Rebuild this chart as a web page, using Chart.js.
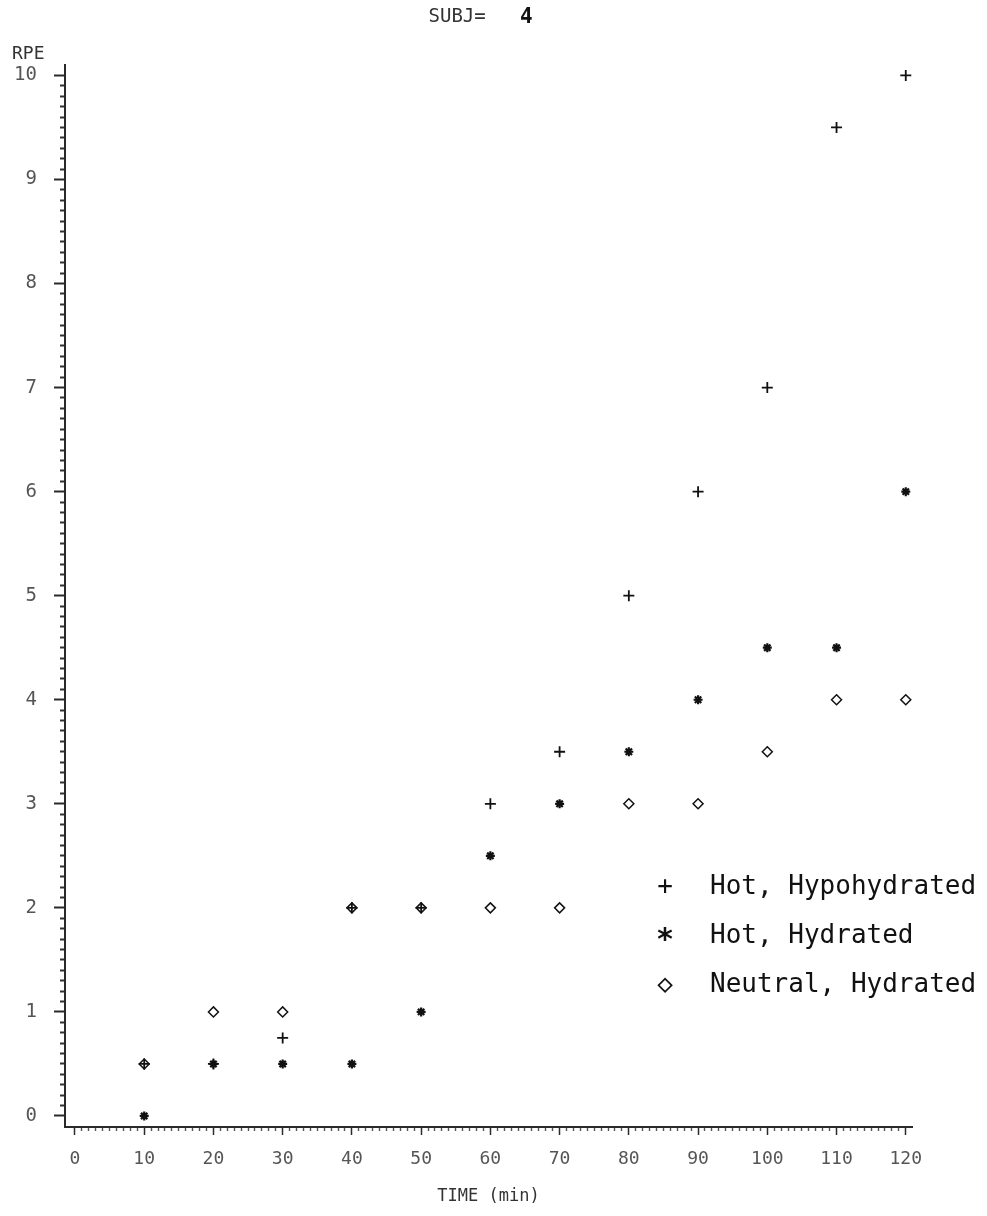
<!DOCTYPE html>
<html>
<head>
<meta charset="utf-8">
<script src="https://cdn.jsdelivr.net/npm/chart.js@4/dist/chart.umd.min.js"></script>
<style>
  html, body { margin: 0; padding: 0; background: #fff; }
  #wrap { width: 987px; height: 1216px; }
</style>
</head>
<body>
<div id="wrap"><canvas id="c" width="987" height="1216"></canvas></div>
<script>
// Sampling times (min)
const times = [10, 20, 30, 40, 50, 60, 70, 80, 90, 100, 110, 120];

// Rating of perceived exertion for each condition
const hotHypohydrated  = [0.5, 0.5, 0.75, 2, 2, 3, 3.5, 5, 6, 7, 9.5, 10];
const hotHydrated      = [0, 0.5, 0.5, 0.5, 1, 2.5, 3, 3.5, 4, 4.5, 4.5, 6];
const neutralHydrated  = [0.5, 1, 1, 2, 2, 2, 2, 3, 3, 3.5, 4, 4];

// Series names and legend glyphs
const seriesLabels = ['Hot, Hypohydrated', 'Hot, Hydrated', 'Neutral, Hydrated'];
const legendGlyphs = ['+', '*', '\u25C7'];

// Labelled ticks and minor tick steps
const xMajorTicks = [0, 10, 20, 30, 40, 50, 60, 70, 80, 90, 100, 110, 120];
const yMajorTicks = [0, 1, 2, 3, 4, 5, 6, 7, 8, 9, 10];
const xMinorStep = 1;
const yMinorStep = 0.1;

const titleLabel = 'SUBJ=';
const subjectId = '4';
const xTitle = 'TIME (min)';
const yTitle = 'RPE';

function pts(ys) { return times.map((t, i) => ({ x: t, y: ys[i] })); }

function tickList(majors, step) {
  const lo = majors[0], hi = majors[majors.length - 1];
  const n = Math.round((hi - lo) / step);
  const out = [];
  for (let i = 0; i <= n; i++) out.push({ value: +(lo + i * step).toFixed(4) });
  return out;
}
function isMajor(v, majors) { return majors.some(m => Math.abs(m - v) < 1e-6); }

const INK = '#111';
const AXIS_INK = '#2a2a2a';
const LABEL_INK = '#555';
const MONO = '"DejaVu Sans Mono", monospace';

// Legend drawn inside the plot area from the datasets
const insideLegend = {
  id: 'insideLegend',
  afterDatasetsDraw(chart) {
    const { ctx, chartArea } = chart;
    const xMark = chartArea.right - 247;
    const xText = chartArea.right - 202;
    const rowY = [chartArea.bottom - 240, chartArea.bottom - 191, chartArea.bottom - 142];
    ctx.save();
    ctx.fillStyle = INK;
    ctx.textBaseline = 'middle';
    chart.data.datasets.forEach((ds, i) => {
      const g = ds.legendGlyph;
      ctx.textAlign = 'center';
      if (g === '*') {
        ctx.font = 'bold 30px ' + MONO;
        ctx.fillText(g, xMark, rowY[i] + 5);
      } else {
        ctx.font = '26px ' + MONO;
        ctx.fillText(g, xMark, rowY[i]);
      }
      ctx.font = '26px ' + MONO;
      ctx.textAlign = 'left';
      ctx.fillText(ds.label, xText, rowY[i]);
    });
    ctx.restore();
  }
};

// Heading and the horizontal "RPE" caption above the value axis
const captions = {
  id: 'captions',
  afterDraw(chart) {
    const { ctx, chartArea } = chart;
    const y = chart.scales.y;
    ctx.save();
    ctx.textBaseline = 'middle';
    ctx.textAlign = 'left';
    // heading
    ctx.fillStyle = '#333';
    ctx.font = '19px ' + MONO;
    const hx = (chartArea.left + chartArea.right) / 2 - 60;
    ctx.fillText(titleLabel, hx, 17);
    const w = ctx.measureText(titleLabel + '   ').width;
    ctx.fillStyle = '#111';
    ctx.font = 'bold 21px ' + MONO;
    ctx.fillText(subjectId, hx + w, 18);
    // value axis caption
    ctx.fillStyle = '#333';
    ctx.font = '18px ' + MONO;
    ctx.fillText(yTitle, 12, y.getPixelForValue(10) - 21);
    ctx.restore();
  }
};

const ds = (label, glyph, data, style, radius, width) => ({
  label, legendGlyph: glyph, data,
  showLine: false,
  pointStyle: style,
  pointRadius: radius,
  pointBorderWidth: width,
  pointBorderColor: INK,
  pointBackgroundColor: style === 'rectRot' ? 'rgba(0,0,0,0)' : INK
});

new Chart(document.getElementById('c'), {
  type: 'scatter',
  data: {
    datasets: [
      ds(seriesLabels[0], legendGlyphs[0], pts(hotHypohydrated), 'cross', 5.5, 1.8),
      ds(seriesLabels[1], legendGlyphs[1], pts(hotHydrated), 'star', 4.5, 2.2),
      ds(seriesLabels[2], legendGlyphs[2], pts(neutralHydrated), 'rectRot', 5, 1.5)
    ]
  },
  options: {
    responsive: false,
    maintainAspectRatio: false,
    animation: false,
    devicePixelRatio: 1,
    events: [],
    layout: { padding: { left: 0, right: 75, top: 65, bottom: 0 } },
    plugins: {
      legend: { display: false },
      tooltip: { enabled: false },
      title: { display: false }
    },
    scales: {
      x: {
        type: 'linear',
        min: -1.44,
        max: 120.9,
        afterBuildTicks(s) { s.ticks = tickList(xMajorTicks, xMinorStep); },
        afterFit(s) { s.height = 89; },
        border: { display: true, color: AXIS_INK, width: 2 },
        grid: {
          drawOnChartArea: false,
          drawTicks: true,
          tickLength: 8,
          tickColor: c => isMajor(c.tick.value, xMajorTicks) ? AXIS_INK : '#555',
          tickWidth: c => isMajor(c.tick.value, xMajorTicks) ? 1.5 : 1.4,
          tickBorderDash: c => isMajor(c.tick.value, xMajorTicks) ? [] : [3, 40]
        },
        ticks: {
          autoSkip: false,
          maxRotation: 0,
          padding: 14,
          color: LABEL_INK,
          font: { family: MONO, size: 18 },
          callback: v => isMajor(v, xMajorTicks) ? String(Math.round(v)) : ''
        },
        title: {
          display: true,
          text: xTitle,
          color: '#333',
          font: { family: MONO, size: 17 },
          padding: { top: 0, bottom: 9 }
        }
      },
      y: {
        type: 'linear',
        min: -0.106,
        max: 10.1,
        afterBuildTicks(s) { s.ticks = tickList(yMajorTicks, yMinorStep); },
        afterFit(s) { s.width = 65; },
        border: { display: true, color: AXIS_INK, width: 2 },
        grid: {
          drawOnChartArea: false,
          drawTicks: true,
          tickLength: 11,
          tickColor: c => isMajor(c.tick.value, yMajorTicks) ? AXIS_INK : '#333',
          tickWidth: 2,
          // minor ticks: only the 5px next to the axis line is inked
          tickBorderDash: c => isMajor(c.tick.value, yMajorTicks) ? [] : [0, 6, 5, 40]
        },
        ticks: {
          autoSkip: false,
          padding: 17,
          color: LABEL_INK,
          font: { family: MONO, size: 19 },
          callback: v => isMajor(v, yMajorTicks) ? String(Math.round(v)) : ''
        }
      }
    }
  },
  plugins: [insideLegend, captions]
});
</script>
</body>
</html>
